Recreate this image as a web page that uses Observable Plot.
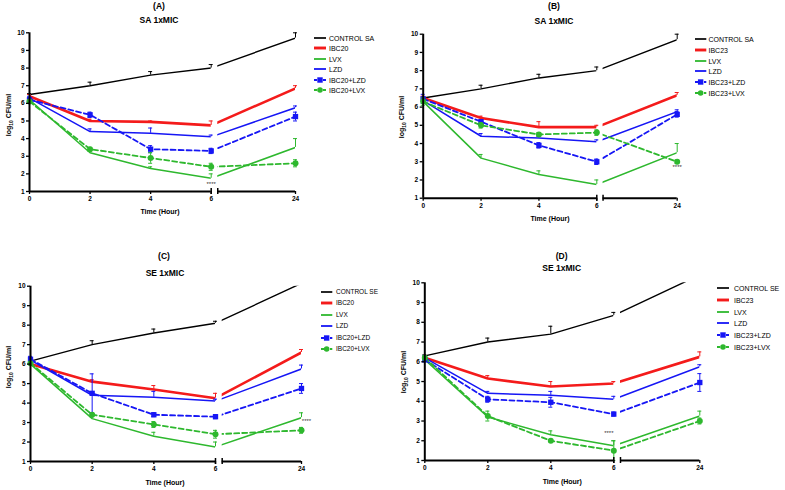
<!DOCTYPE html>
<html>
<head>
<meta charset="utf-8">
<script src="https://cdn.jsdelivr.net/npm/d3@7"></script>
<script src="https://cdn.jsdelivr.net/npm/@observablehq/plot@0.6"></script>
<style>
  html, body { margin: 0; padding: 0; background: #fff; }
  body { font-family: "Liberation Sans", Arial, sans-serif; }
  #root { position: relative; width: 785px; height: 490px; overflow: hidden; background: #fff; }
  .panel { position: absolute; }
  .panel svg { background: transparent !important; overflow: visible; }
  .lbl { position: absolute; transform: translate(-50%, -50%); font-weight: bold; white-space: nowrap; color: #000; line-height: 1; z-index: 2; }
  .ylab { position: absolute; transform: translate(-50%, -50%) rotate(-90deg); font-weight: bold; white-space: nowrap; font-size: 7px; line-height: 1; z-index: 2; }
  .ylab sub { font-size: 70%; vertical-align: -0.3em; }
  .leg { position: absolute; white-space: nowrap; z-index: 2; line-height: 1; }
  .leg svg { position: absolute; left: 0; top: 0; overflow: visible; }
  .leg span { position: absolute; top: 0; transform: translateY(-50%); color: #000; }
</style>
</head>
<body>
<div id="root"></div>
<script>
// ---------------- data ----------------
const hours = [0, 2, 4, 6, 24];
const xTicks = [0, 2, 4, 6, 24];
const yTicks = [1, 2, 3, 4, 5, 6, 7, 8, 9, 10];
const breakHour = 7.4; // broken x axis: second segment starts here
const yMax = 10;

const letters = ["(A)", "(B)", "(C)", "(D)"];
const titles = ["SA 1xMIC", "SA 1xMIC", "SE 1xMIC", "SE 1xMIC"];
const xTitle = "Time (Hour)";

const namesA = [" CONTROL SA", "IBC20", "LVX", "LZD", "IBC20+LZD", "IBC20+LVX"];
const namesB = ["CONTROL SA", "IBC23", "LVX", "LZD", "IBC23+LZD", "IBC23+LVX"];
const namesC = [" CONTROL SE", "IBC20", "LVX", "LZD", "IBC20+LZD", "IBC20+LVX"];
const namesD = ["CONTROL SE", "IBC23", "LVX", "LZD", "IBC23+LZD", "IBC23+LVX"];

// log10 CFU/ml at 0, 2, 4, 6, 24 h (series order as in names)
const meansA = [
  [6.5, 7.0, 7.6, 8.0, 9.7],
  [6.4, 5.0, 4.95, 4.75, 6.85],
  [6.2, 3.2, 2.3, 1.75, 3.5],
  [6.3, 4.4, 4.3, 4.1, 5.75],
  [6.2, 5.35, 3.4, 3.3, 5.25],
  [6.1, 3.4, 2.9, 2.4, 2.6]
];
const errsA = [
  [0.05, 0.2, 0.2, 0.2, 0.3],
  [0.1, 0.1, 0.05, 0.25, 0.15],
  [0.1, 0.1, 0.1, 0.25, 0.5],
  [0.1, 0.15, 0.3, 0.1, 0.1],
  [0.1, 0.15, 0.2, 0.15, 0.25],
  [0.1, 0.1, 0.3, 0.2, 0.2]
];
const meansB = [
  [6.5, 7.0, 7.6, 8.0, 9.7],
  [6.5, 5.4, 4.9, 4.9, 6.65],
  [6.3, 3.2, 2.3, 1.75, 3.5],
  [6.35, 4.4, 4.3, 4.1, 5.75],
  [6.45, 5.2, 3.9, 3.0, 5.6],
  [6.3, 5.0, 4.5, 4.6, 3.0]
];
const errsB = [
  [0.05, 0.2, 0.2, 0.2, 0.3],
  [0.1, 0.1, 0.3, 0.1, 0.15],
  [0.1, 0.2, 0.2, 0.25, 0.5],
  [0.1, 0.15, 0.1, 0.1, 0.1],
  [0.25, 0.1, 0.15, 0.15, 0.15],
  [0.2, 0.15, 0.1, 0.15, 0.1]
];
const meansC = [
  [6.15, 7.0, 7.6, 8.1, 10.15],
  [6.0, 5.1, 4.7, 4.25, 6.6],
  [6.0, 3.2, 2.3, 1.75, 3.25],
  [6.2, 4.4, 4.3, 4.1, 5.75],
  [6.25, 4.5, 3.4, 3.3, 4.75],
  [6.05, 3.4, 2.9, 2.4, 2.6]
];
const errsC = [
  [0.05, 0.2, 0.2, 0.1, 0.2],
  [0.05, 0.1, 0.2, 0.25, 0.15],
  [0.05, 0.1, 0.2, 0.25, 0.25],
  [0.1, 0.1, 0.3, 0.1, 0.2],
  [0.15, 1.0, 0.1, 0.1, 0.25],
  [0.05, 0.1, 0.15, 0.2, 0.15]
];
const meansD = [
  [6.3, 7.0, 7.4, 8.35, 10.4],
  [6.2, 5.15, 4.75, 4.9, 6.25],
  [6.1, 3.2, 2.3, 1.75, 3.25],
  [6.2, 4.4, 4.3, 4.1, 5.75],
  [6.1, 4.1, 3.95, 3.35, 4.95],
  [6.2, 3.25, 2.0, 1.5, 3.0]
];
const errsD = [
  [0.05, 0.2, 0.4, 0.15, 0.2],
  [0.05, 0.15, 0.25, 0.1, 0.25],
  [0.1, 0.1, 0.2, 0.25, 0.25],
  [0.1, 0.1, 0.2, 0.15, 0.1],
  [0.1, 0.15, 0.25, 0.1, 0.45],
  [0.1, 0.25, 0.05, 0.5, 0.15]
];
// significance marks (****)
const sigHourA = [6], sigLevelA = [1.43];
const sigHourB = [24], sigLevelB = [2.72];
const sigHourC = [24], sigLevelC = [3.05];
const sigHourD = [6], sigLevelD = [2.4];

// ---------------- styles & layout ----------------
const GREEN = "#2eb82e", BLUE = "#1616f5", RED = "#f41b1b";
const styles = [
  {color: "#000", width: 1.4, dash: null, symbol: null, twoSided: false},
  {color: RED, width: 2.6, dash: null, symbol: null, twoSided: false},
  {color: GREEN, width: 1.5, dash: null, symbol: null, twoSided: false},
  {color: BLUE, width: 1.5, dash: null, symbol: null, twoSided: false},
  {color: BLUE, width: 1.8, dash: "5,3", symbol: "square", twoSided: true},
  {color: GREEN, width: 1.8, dash: "5,3", symbol: "circle", twoSided: true}
];

const panels = [
  {names: namesA, means: meansA, errs: errsA, sigX: sigHourA, sigY: sigLevelA, sigDx: 0,
   box: {left: 0, top: 0, width: 392, height: 240}, xr: [29, 210.7, 295], yTop: 32.3, yBot: 191,
   letterPos: [159, 6], titlePos: [159, 20], xlabPos: [160, 211], ylabPos: [10, 115],
   leg: {x1: 315, x2: 325, tx: 329, y0: 37.7, dy: 10.5, fs: 7}},
  {names: namesB, means: meansB, errs: errsB, sigX: sigHourB, sigY: sigLevelB, sigDx: 0,
   box: {left: 392, top: 0, width: 393, height: 240}, xr: [30.7, 204.3, 284.7], yTop: 33.7, yBot: 197.7,
   letterPos: [554, 6], titlePos: [554, 21], xlabPos: [550, 218], ylabPos: [403, 117],
   leg: {x1: 695.7, x2: 705, tx: 708.5, y0: 39, dy: 10.8, fs: 7}},
  {names: namesC, means: meansC, errs: errsC, sigX: sigHourC, sigY: sigLevelC, sigDx: 5,
   box: {left: 0, top: 240, width: 392, height: 250}, xr: [30, 215, 301], yTop: 45.7, yBot: 221,
   letterPos: [164, 255.7], titlePos: [165, 273.3], xlabPos: [165, 482.3], ylabPos: [10, 367],
   leg: {x1: 321.7, x2: 331, tx: 336, y0: 291.7, dy: 11.5, fs: 6.5}},
  {names: namesD, means: meansD, errs: errsD, sigX: sigHourD, sigY: sigLevelD, sigDx: -5,
   box: {left: 392, top: 240, width: 393, height: 250}, xr: [32.3, 221.3, 307.3], yTop: 42.3, yBot: 220,
   letterPos: [561.7, 255.7], titlePos: [561.7, 268.3], xlabPos: [562.3, 481], ylabPos: [405, 372],
   leg: {x1: 718.3, x2: 728.3, tx: 734, y0: 288.3, dy: 11.7, fs: 7}}
];

const FONT = "'Liberation Sans', Arial, sans-serif";
const root = document.getElementById("root");

function addLabel(text, pos, size, cls = "lbl") {
  const d = document.createElement("div");
  d.className = cls;
  d.style.left = pos[0] + "px";
  d.style.top = pos[1] + "px";
  d.style.fontSize = size + "px";
  d.innerHTML = text;
  root.appendChild(d);
}

panels.forEach((p, k) => {
  const rows = [];
  p.means.forEach((vals, s) => vals.forEach((v, j) => rows.push({s, hour: hours[j], value: v, err: p.errs[s][j]})));

  const marks = [];
  // lines
  styles.forEach((st, s) => {
    const data = rows.filter(d => d.s === s);
    marks.push(Plot.line(data, {x: "hour", y: "value", stroke: st.color, strokeWidth: st.width,
      strokeDasharray: st.dash || undefined, clip: true}));
  });
  // mask the axis break gap
  marks.push(Plot.rect([0], {x1: 6, x2: breakHour, y1: 1, y2: yMax + 0.05, fill: "white", stroke: "none"}));
  // error bars and symbols (bars beyond the top of the axis are cut off)
  styles.forEach((st, s) => {
    const data = rows.filter(d => d.s === s && d.value < yMax);
    const capped = data.filter(d => d.value + d.err <= yMax);
    const lo = st.twoSided ? d => d.value - d.err : d => d.value;
    marks.push(Plot.ruleX(data, {x: "hour", y1: lo, y2: d => Math.min(d.value + d.err, yMax), stroke: st.color, strokeWidth: 1}));
    marks.push(Plot.ruleY(capped, {x1: "hour", x2: "hour", y: d => d.value + d.err, insetLeft: -2, insetRight: -2, stroke: st.color, strokeWidth: 1}));
    if (st.twoSided) marks.push(Plot.ruleY(data, {x1: "hour", x2: "hour", y: d => d.value - d.err, insetLeft: -2, insetRight: -2, stroke: st.color, strokeWidth: 1}));
    if (st.symbol) marks.push(Plot.dot(data, {x: "hour", y: "value", symbol: st.symbol, r: 3, fill: st.color, stroke: "none"}));
  });
  // significance
  marks.push(Plot.text(p.sigX.map((h, i) => ({h, v: p.sigY[i]})), {x: "h", y: "v", text: () => "****", fontSize: 6, dx: p.sigDx, fill: "#333"}));
  // axes (broken x axis)
  marks.push(Plot.ruleY([1], {x1: 0, x2: 6, strokeWidth: 2, stroke: "#000"}));
  marks.push(Plot.ruleY([1], {x1: breakHour, x2: 24, strokeWidth: 2, stroke: "#000"}));
  marks.push(Plot.ruleX([0], {y1: 1, y2: yMax, strokeWidth: 2, stroke: "#000"}));
  marks.push(Plot.ruleX([6, breakHour], {y1: 1, y2: 1, insetTop: -3, insetBottom: -3, strokeWidth: 1.5, stroke: "#000"}));
  marks.push(Plot.axisX(xTicks, {tickSize: 3, tickPadding: 2, fontSize: 6.5, fontWeight: "bold", label: null, strokeWidth: 1.3, tickFormat: d => String(d)}));
  marks.push(Plot.axisY(yTicks, {tickSize: 3, tickPadding: 2, fontSize: 6.5, fontWeight: "bold", label: null, strokeWidth: 1.3, tickFormat: d => String(d)}));

  const b = p.box;
  const chart = Plot.plot({
    width: b.width,
    height: b.height,
    marginLeft: p.xr[0],
    marginRight: b.width - p.xr[2],
    marginTop: p.yTop,
    marginBottom: b.height - p.yBot,
    x: {type: "linear", domain: [0, 6, 24], range: p.xr},
    y: {type: "linear", domain: [1, yMax]},
    style: {fontFamily: FONT, background: "transparent", color: "#000"},
    marks
  });
  const div = document.createElement("div");
  div.className = "panel";
  div.style.left = b.left + "px";
  div.style.top = b.top + "px";
  div.style.width = b.width + "px";
  div.style.height = b.height + "px";
  div.appendChild(chart);
  root.appendChild(div);

  // titles
  addLabel(letters[k], p.letterPos, 8.5);
  addLabel(titles[k], p.titlePos, 8.5);
  addLabel(xTitle, p.xlabPos, 7);
  addLabel("log<sub>10</sub> CFU/ml", p.ylabPos, 7, "ylab");

  // legend
  const L = p.leg;
  p.names.forEach((name, s) => {
    const st = styles[s];
    const row = document.createElement("div");
    row.className = "leg";
    row.style.left = L.x1 + "px";
    row.style.top = (L.y0 + s * L.dy) + "px";
    const w = L.x2 - L.x1;
    const ns = "http://www.w3.org/2000/svg";
    const svg = document.createElementNS(ns, "svg");
    svg.setAttribute("width", w);
    svg.setAttribute("height", 1);
    const line = document.createElementNS(ns, "line");
    line.setAttribute("x1", -1); line.setAttribute("x2", w + 1);
    line.setAttribute("y1", 0); line.setAttribute("y2", 0);
    line.setAttribute("stroke", st.color);
    line.setAttribute("stroke-width", st.width + 0.3);
    if (st.dash) line.setAttribute("stroke-dasharray", "3,1.5");
    svg.appendChild(line);
    if (st.symbol === "square") {
      const r = document.createElementNS(ns, "rect");
      r.setAttribute("x", w / 2 - 2.7); r.setAttribute("y", -2.7);
      r.setAttribute("width", 5.4); r.setAttribute("height", 5.4);
      r.setAttribute("fill", st.color);
      svg.appendChild(r);
    } else if (st.symbol === "circle") {
      const c = document.createElementNS(ns, "circle");
      c.setAttribute("cx", w / 2); c.setAttribute("cy", 0); c.setAttribute("r", 2.8);
      c.setAttribute("fill", st.color);
      svg.appendChild(c);
    }
    row.appendChild(svg);
    const span = document.createElement("span");
    span.style.left = (L.tx - L.x1) + "px";
    span.style.fontSize = L.fs + "px";
    span.textContent = name;
    row.appendChild(span);
    root.appendChild(row);
  });
});
</script>
</body>
</html>
